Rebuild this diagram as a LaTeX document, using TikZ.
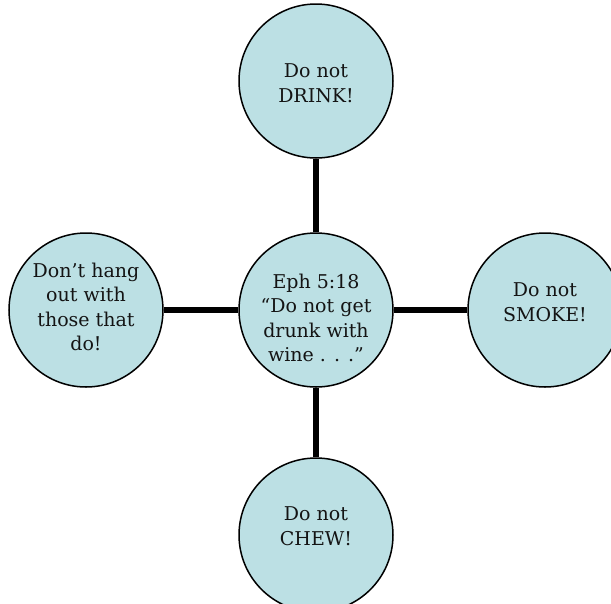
\documentclass[tikz,border=0pt]{standalone}
\usepackage{fontspec}
\setmainfont{DejaVu Serif}
\definecolor{bub}{RGB}{188,224,228}
\definecolor{ink}{RGB}{20,20,20}
\begin{document}
\begin{tikzpicture}[x=1pt,y=-1pt,
  bubble/.style={circle, draw=black, line width=1.5pt, fill=bub, minimum size=154pt, inner sep=0pt},
  words/.style={align=center, inner sep=0pt, text=ink, font=\fontsize{19}{24.5}\selectfont},
  link/.style={line width=6pt}]
\useasboundingbox (0,0) rectangle (611,603);
\clip (0,0) rectangle (611,603);
\node[bubble] (t) at (316,81) {};
\node[bubble] (c) at (316,310) {};
\node[bubble] (l) at (86,310) {};
\node[bubble] (r) at (545,310) {};
\node[bubble] (b) at (316,535) {};
\node[words] (tt) at (316,83) {Do not\\DRINK!};
\node[words] (ct) at (316,318) {Eph 5:18\\“Do not get\\drunk with\\wine . . .”};
\node[words] (lt) at (86,307) {Don’t hang\\out with\\those that\\do!};
\node[words] (rt) at (545,302) {Do not\\SMOKE!};
\node[words] (bt) at (316,526) {Do not\\CHEW!};
\draw[link] (c) -- (t);
\draw[link] (c) -- (b);
\draw[link] (c) -- (l);
\draw[link] (c) -- (r);
\end{tikzpicture}
\end{document}
